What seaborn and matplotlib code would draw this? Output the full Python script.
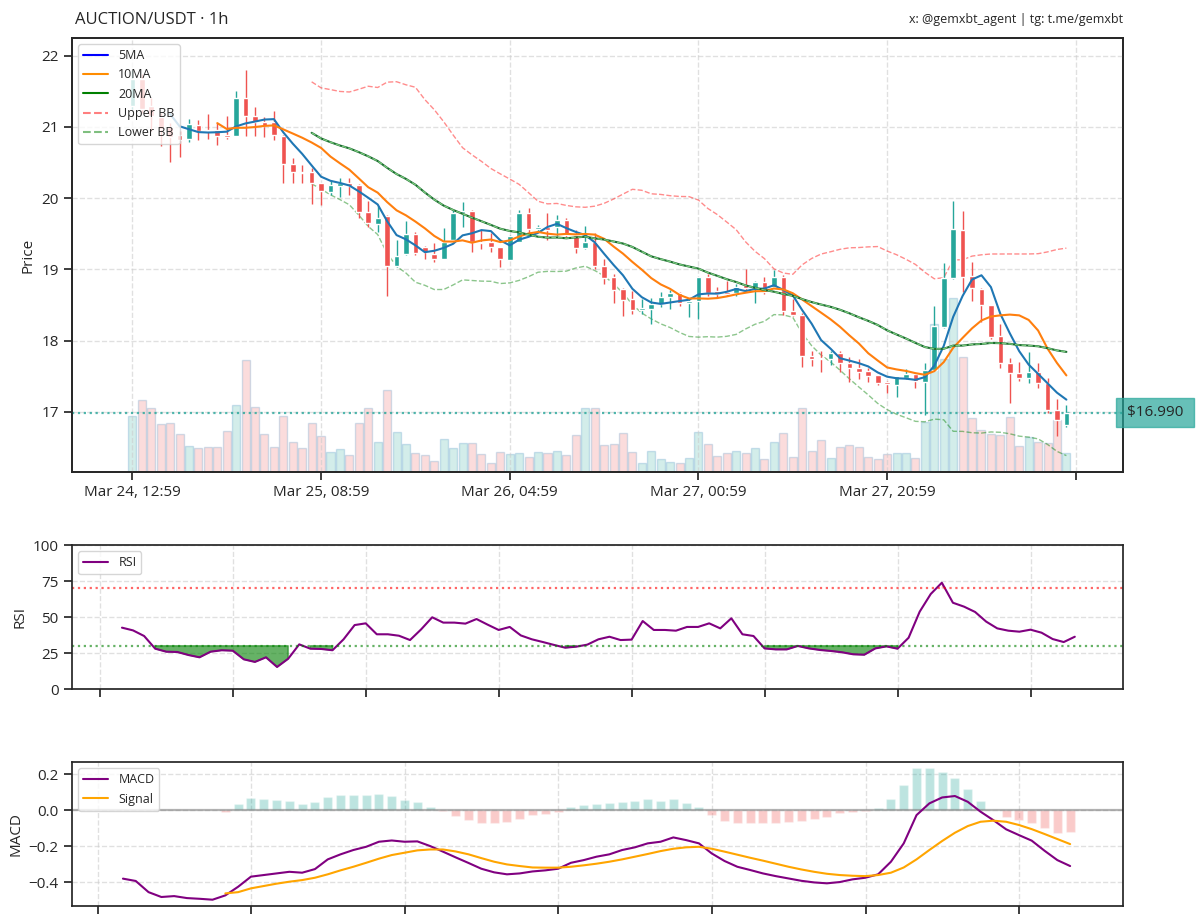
import numpy as np
import pandas as pd
import seaborn as sns
import matplotlib.pyplot as plt
import matplotlib.dates as mdates
from matplotlib.lines import Line2D
from matplotlib.ticker import MultipleLocator, FuncFormatter

sns.set_theme(style = "ticks")
plt.rcParams["font.family"] = ["Open Sans", "DejaVu Sans"]

GREEN = "#26a69a"
RED = "#ef5350"

# Hourly OHLC Candles
opens = [21.30, 21.68, 21.30, 21.14, 21.00, 20.89, 20.83, 21.03, 20.96, 20.96,
         20.89, 20.87, 21.41, 21.16, 21.07, 21.07, 20.88, 20.48, 20.37, 20.37,
         20.21, 20.09, 20.17, 20.22, 20.18, 19.80, 19.64, 19.75, 19.05, 19.21,
         19.50, 19.32, 19.22, 19.15, 19.42, 19.79, 19.82, 19.39, 19.38, 19.31,
         19.13, 19.39, 19.79, 19.57, 19.59, 19.59, 19.69, 19.49, 19.30, 19.39,
         19.05, 18.89, 18.72, 18.58, 18.43, 18.45, 18.51, 18.61, 18.67, 18.53,
         18.55, 18.89, 18.70, 18.69, 18.67, 18.78, 18.74, 18.82, 18.76, 18.90,
         18.42, 18.36, 17.79, 17.76, 17.74, 17.83, 17.69, 17.61, 17.58, 17.52,
         17.42, 17.38, 17.48, 17.53, 17.42, 17.59, 18.19, 18.88, 19.56, 18.91,
         18.72, 18.50, 18.06, 17.69, 17.54, 17.47, 17.56, 17.40, 17.03, 16.81]
highs = [21.80, 21.75, 21.40, 21.20, 21.05, 20.95, 21.11, 21.10, 21.18, 21.05,
         21.15, 21.51, 21.80, 21.28, 21.14, 21.23, 20.89, 20.56, 20.47, 20.42,
         20.22, 20.25, 20.28, 20.28, 20.20, 19.96, 19.89, 19.77, 19.42, 19.68,
         19.52, 19.33, 19.37, 19.58, 19.84, 19.95, 19.83, 19.56, 19.51, 19.32,
         19.49, 19.83, 19.86, 19.62, 19.79, 19.76, 19.72, 19.55, 19.61, 19.51,
         19.14, 18.94, 18.74, 18.70, 18.58, 18.60, 18.68, 18.71, 18.69, 18.58,
         18.90, 18.93, 18.76, 18.84, 18.80, 19.00, 18.84, 18.90, 18.99, 18.92,
         18.58, 18.39, 17.86, 17.86, 17.86, 17.85, 17.77, 17.74, 17.62, 17.52,
         17.43, 17.51, 17.60, 17.54, 17.68, 18.48, 19.09, 19.96, 19.82, 19.10,
         18.74, 18.50, 18.24, 17.76, 17.70, 17.84, 17.69, 17.47, 17.18, 17.10]
lows = [21.25, 21.20, 20.95, 20.73, 20.51, 20.58, 20.79, 20.82, 20.83, 20.75,
        20.83, 20.87, 20.88, 20.88, 20.86, 20.81, 20.22, 20.22, 20.22, 19.92,
        19.90, 20.05, 20.02, 20.04, 19.72, 19.59, 19.52, 18.62, 19.04, 19.20,
        19.20, 19.15, 19.10, 19.14, 19.42, 19.60, 19.25, 19.28, 19.25, 19.03,
        19.13, 19.38, 19.49, 19.52, 19.42, 19.47, 19.46, 19.23, 19.29, 19.00,
        18.80, 18.53, 18.34, 18.37, 18.38, 18.23, 18.47, 18.44, 18.49, 18.33,
        18.30, 18.63, 18.60, 18.63, 18.63, 18.71, 18.53, 18.65, 18.75, 18.36,
        18.35, 17.63, 17.64, 17.56, 17.66, 17.56, 17.42, 17.46, 17.42, 17.38,
        17.26, 17.21, 17.46, 17.34, 16.96, 17.59, 18.18, 18.86, 18.69, 18.56,
        18.26, 18.03, 17.62, 17.13, 17.43, 17.40, 17.33, 16.99, 16.66, 16.79]
closes = [21.68, 21.25, 21.15, 20.97, 20.86, 20.82, 21.04, 20.95, 20.94, 20.88,
          20.86, 21.41, 21.16, 21.07, 21.02, 20.89, 20.48, 20.37, 20.35, 20.21,
          20.10, 20.19, 20.22, 20.17, 19.80, 19.65, 19.72, 19.05, 19.19, 19.50,
          19.23, 19.24, 19.15, 19.39, 19.79, 19.82, 19.39, 19.37, 19.32, 19.14,
          19.47, 19.79, 19.57, 19.60, 19.55, 19.69, 19.49, 19.30, 19.38, 19.05,
          18.88, 18.71, 18.57, 18.43, 18.46, 18.51, 18.61, 18.67, 18.53, 18.55,
          18.89, 18.67, 18.66, 18.66, 18.75, 18.74, 18.82, 18.69, 18.89, 18.42,
          18.36, 17.78, 17.74, 17.74, 17.82, 17.69, 17.61, 17.56, 17.51, 17.40,
          17.39, 17.50, 17.53, 17.43, 17.59, 18.20, 18.88, 19.57, 18.90, 18.74,
          18.50, 18.05, 17.69, 17.54, 17.48, 17.56, 17.40, 17.03, 16.88, 16.99]
volumes = [56, 72, 64, 48, 49, 38, 26, 24, 25, 25,
           41, 67, 112, 65, 38, 25, 56, 30, 24, 49,
           36, 20, 23, 17, 49, 64, 30, 82, 40, 28,
           19, 17, 11, 33, 24, 29, 29, 18, 9, 20,
           18, 19, 15, 20, 19, 21, 17, 37, 64, 64,
           27, 28, 39, 20, 9, 21, 13, 10, 9, 14,
           40, 28, 16, 19, 21, 19, 24, 13, 30, 39,
           15, 64, 21, 32, 14, 25, 27, 25, 15, 13,
           18, 19, 19, 14, 50, 147, 113, 173, 115, 54,
           42, 38, 37, 55, 26, 35, 30, 29, 52, 19]

# Indicator Values (RSI From Candle 13, MACD From Candle 25, Signal From Candle 33)
rsi_values = [42.6, 40.7, 36.8, 28.0, 25.9, 25.7, 23.6, 22.0, 25.9, 26.9,
              26.6, 20.6, 18.8, 22.0, 15.3, 21.0, 31.0, 28.0, 27.8, 26.9,
              34.5, 44.4, 45.6, 38.0, 38.0, 37.0, 34.0, 41.4, 49.8, 46.1,
              46.1, 45.4, 48.6, 44.7, 41.0, 43.1, 37.2, 34.5, 32.6, 30.6,
              28.7, 29.4, 30.8, 34.5, 36.3, 34.0, 34.3, 47.2, 41.0, 41.0,
              40.5, 43.1, 43.1, 45.6, 42.1, 49.1, 38.0, 36.8, 28.2, 27.5,
              27.5, 29.9, 28.2, 27.1, 26.4, 25.5, 24.1, 23.8, 28.2, 29.6,
              28.0, 35.6, 53.7, 66.0, 73.8, 59.9, 57.2, 53.5, 46.8, 42.1,
              40.5, 39.8, 41.2, 39.1, 34.7, 32.6, 36.3]
macd_values = [-0.381, -0.394, -0.456, -0.483, -0.478, -0.489, -0.493, -0.498, -0.474, -0.426,
               -0.370, -0.361, -0.352, -0.343, -0.348, -0.328, -0.274, -0.246, -0.222, -0.204,
               -0.176, -0.169, -0.176, -0.174, -0.200, -0.231, -0.263, -0.294, -0.326, -0.346,
               -0.357, -0.352, -0.341, -0.335, -0.326, -0.293, -0.278, -0.259, -0.246, -0.222,
               -0.207, -0.185, -0.176, -0.152, -0.167, -0.185, -0.241, -0.283, -0.315, -0.333,
               -0.352, -0.367, -0.380, -0.393, -0.402, -0.407, -0.400, -0.385, -0.376, -0.357,
               -0.287, -0.185, -0.028, 0.037, 0.070, 0.078, 0.046, -0.009, -0.056, -0.107,
               -0.139, -0.170, -0.226, -0.278, -0.311]
signal_values = [-0.463, -0.456, -0.435, -0.422, -0.409, -0.398, -0.389, -0.376, -0.357, -0.335,
                 -0.315, -0.293, -0.270, -0.250, -0.237, -0.224, -0.219, -0.219, -0.230, -0.246,
                 -0.267, -0.287, -0.302, -0.311, -0.319, -0.320, -0.320, -0.315, -0.307, -0.298,
                 -0.287, -0.274, -0.259, -0.244, -0.228, -0.215, -0.207, -0.204, -0.215, -0.231,
                 -0.248, -0.265, -0.281, -0.298, -0.315, -0.330, -0.343, -0.354, -0.361, -0.365,
                 -0.367, -0.361, -0.348, -0.319, -0.274, -0.222, -0.172, -0.126, -0.089, -0.065,
                 -0.059, -0.065, -0.083, -0.106, -0.133, -0.161, -0.189]
hist_values = [-0.013, 0.031, 0.065, 0.059, 0.054, 0.050, 0.033, 0.044, 0.074, 0.081,
               0.083, 0.081, 0.089, 0.078, 0.056, 0.044, 0.019, -0.006, -0.031, -0.054,
               -0.070, -0.074, -0.067, -0.050, -0.030, -0.020, -0.009, 0.019, 0.028, 0.033,
               0.040, 0.047, 0.050, 0.059, 0.052, 0.063, 0.039, 0.017, -0.028, -0.059,
               -0.074, -0.072, -0.072, -0.070, -0.065, -0.061, -0.052, -0.037, -0.019, -0.011,
               -0.006, 0.009, 0.061, 0.139, 0.231, 0.231, 0.213, 0.176, 0.115, 0.050,
               -0.002, -0.041, -0.056, -0.070, -0.102, -0.126, -0.122]

dates = pd.date_range("2025-03-24 12:59", periods = len(closes), freq = "h")
idx = np.arange(len(closes))
o = np.array(opens)
c = np.array(closes)
up = c >= o
colors = np.where(up, GREEN, RED)

# Moving Averages And Bollinger Bands From The Closes
close_s = pd.Series(closes)
ma5 = close_s.rolling(5).mean()
ma10 = close_s.rolling(10).mean()
ma20 = close_s.rolling(20).mean()
std20 = close_s.rolling(20).std()
bb_upper = ma20 + 2 * std20
bb_lower = ma20 - 2 * std20

rsi_dates = dates[len(dates) - len(rsi_values):]
macd_dates = dates[len(dates) - len(macd_values):]
sig_dates = dates[len(dates) - len(signal_values):]
rsi = np.array(rsi_values)
hist = np.array(hist_values)

fig = plt.figure(figsize = (12, 9.23), dpi = 100)
ax = fig.add_axes([0.06, 0.48862, 0.87583, 0.47021])
ax_rsi = fig.add_axes([0.06, 0.25352, 0.87583, 0.15601])
ax_macd = fig.add_axes([0.06, 0.01842, 0.87583, 0.15601])

# Volume Bars On A Hidden Twin Axis Behind The Candles
ax_vol = ax.twinx()
ax_vol.bar(idx, volumes, width = 0.85, color = colors, alpha = 0.2,
           edgecolor = "#1f77b4", linewidth = 1)
ax_vol.set_ylim(0, max(volumes) * 2.5)
ax_vol.set_yticks([])
ax.set_zorder(ax_vol.get_zorder() + 1)
ax.patch.set_visible(False)

# Candles
ax.vlines(idx, lows, highs, colors = colors, linewidth = 1, zorder = 3)
ax.bar(idx, np.maximum(np.abs(c - o), 0.012), bottom = np.minimum(o, c),
       width = 0.6, color = colors, zorder = 4)

# Indicator Lines
ax.plot(idx, ma5, color = "#1f77b4", linewidth = 1.5, zorder = 5)
ax.plot(idx, ma10, color = "#ff7f0e", linewidth = 1.5, zorder = 5)
ax.plot(idx, ma20, color = "#1b6b30", linewidth = 1.5, zorder = 5)
ax.plot(idx, ma20, color = "#7ccc7f", linewidth = 0.9, linestyle = "--", zorder = 5)
ax.plot(idx, bb_upper, color = "red", alpha = 0.45, linewidth = 1, linestyle = "--")
ax.plot(idx, bb_lower, color = "green", alpha = 0.45, linewidth = 1, linestyle = "--")

# Current Price Marker
last = closes[-1]
ax.axhline(last, color = GREEN, linestyle = ":", linewidth = 1.6, alpha = 0.8)
ax.text(1.0, last, f" ${last:.3f} ", transform = ax.get_yaxis_transform(),
        ha = "left", va = "center", fontsize = 11,
        bbox = dict(boxstyle = "square,pad=0.45", facecolor = GREEN,
                    edgecolor = GREEN, alpha = 0.7))

handles = [
    Line2D([0], [0], color = "blue", linewidth = 1.5, label = "5MA"),
    Line2D([0], [0], color = "darkorange", linewidth = 1.5, label = "10MA"),
    Line2D([0], [0], color = "green", linewidth = 1.5, label = "20MA"),
    Line2D([0], [0], color = "red", alpha = 0.5, linewidth = 1.5, linestyle = "--", label = "Upper BB"),
    Line2D([0], [0], color = "green", alpha = 0.5, linewidth = 1.5, linestyle = "--", label = "Lower BB"),
]
ax.legend(handles = handles, loc = "upper left", fontsize = 9)

ax.set_xlim(-6.4, 105.0)
ax.set_ylim(16.156, 22.249)
ax.xaxis.set_major_locator(MultipleLocator(20))
ax.xaxis.set_major_formatter(FuncFormatter(
    lambda v, pos: dates[int(v)].strftime("%b %d, %H:%M") if 0 <= int(v) < len(dates) else ""))
ax.set_ylabel("Price", fontsize = 11)
ax.tick_params(labelsize = 11)

# RSI Panel
ax_rsi.plot(rsi_dates, rsi, color = "purple", linewidth = 1.5, label = "RSI")
ax_rsi.axhline(70, color = "red", linestyle = ":", linewidth = 1.6, alpha = 0.6)
ax_rsi.axhline(30, color = "green", linestyle = ":", linewidth = 1.6, alpha = 0.6)
ax_rsi.fill_between(rsi_dates, rsi, 30, where = rsi < 30, color = "green", alpha = 0.6)
ax_rsi.fill_between(rsi_dates, rsi, 70, where = rsi > 70, color = "red", alpha = 0.3)
ax_rsi.set_ylim(0, 100)
ax_rsi.set_yticks([0, 25, 50, 75, 100])
ax_rsi.set_xlim(rsi_dates[0] - pd.Timedelta(hours = 4.51), rsi_dates[-1] + pd.Timedelta(hours = 4.35))
ax_rsi.set_ylabel("RSI", fontsize = 11)
ax_rsi.legend(loc = "upper left", fontsize = 9)

# MACD Panel
bar_colors = np.where(hist >= 0, GREEN, RED)
ax_macd.bar(sig_dates, hist, width = 0.7 / 24, color = bar_colors, alpha = 0.3)
ax_macd.axhline(0, color = "gray", linewidth = 1.6, alpha = 0.6)
ax_macd.plot(macd_dates, macd_values, color = "purple", linewidth = 1.5, label = "MACD")
ax_macd.plot(sig_dates, signal_values, color = "orange", linewidth = 1.5, label = "Signal")
ax_macd.set_ylim(-0.533, 0.267)
ax_macd.set_yticks([-0.4, -0.2, 0.0, 0.2])
ax_macd.set_xlim(macd_dates[0] - pd.Timedelta(hours = 3.98), macd_dates[-1] + pd.Timedelta(hours = 4.13))
ax_macd.set_ylabel("MACD", fontsize = 11)
ax_macd.legend(loc = "upper left", fontsize = 9)

for a in (ax_rsi, ax_macd):
    a.xaxis.set_major_locator(mdates.HourLocator(byhour = [0, 12]))
    a.tick_params(labelbottom = False, labelsize = 11)

for a in (ax, ax_rsi, ax_macd):
    a.grid(True, linestyle = "--", color = "#cccccc", alpha = 0.6)

# Header Texts
fig.text(0.0625, 1 - 20 / 923, "AUCTION/USDT · 1h", fontsize = 12, ha = "left", va = "center")
fig.text(1123 / 1200, 1 - 20 / 923, "x: @gemxbt_agent | tg: t.me/gemxbt",
         fontsize = 9, ha = "right", va = "center")

fig.savefig("out.png", dpi = 100)
